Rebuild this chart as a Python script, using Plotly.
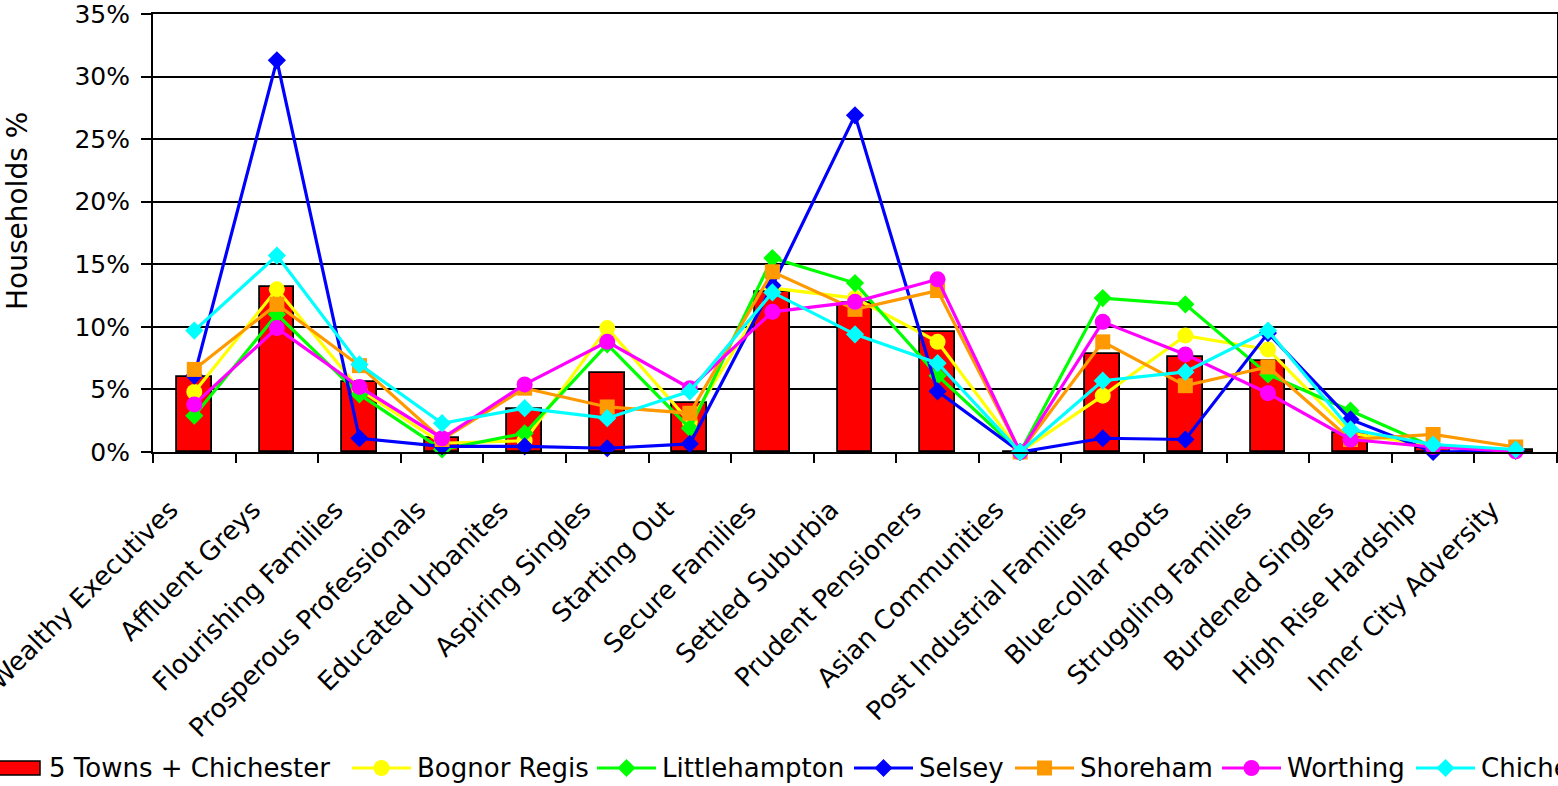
import plotly.graph_objects as go

# Household segment categories
categories = [
    "Wealthy Executives", "Affluent Greys", "Flourishing Families",
    "Prosperous Professionals", "Educated Urbanites", "Aspiring Singles",
    "Starting Out", "Secure Families", "Settled Suburbia",
    "Prudent Pensioners", "Asian Communities", "Post Industrial Families",
    "Blue-collar Roots", "Struggling Families", "Burdened Singles",
    "High Rise Hardship", "Inner City Adversity",
]

# Share of households (%) per segment
five_towns = [6.0, 13.2, 5.6, 1.1, 3.4, 6.3, 3.9, 12.8, 11.9, 9.6, 0.0, 7.8, 7.6, 7.3, 1.5, 0.3, 0.15]
bognor_regis = [4.8, 13.0, 5.0, 0.7, 0.9, 9.9, 2.4, 13.1, 12.3, 8.8, 0.0, 4.5, 9.3, 8.2, 1.5, 0.5, 0.1]
littlehampton = [2.9, 11.0, 4.6, 0.2, 1.5, 8.6, 1.9, 15.5, 13.5, 6.1, 0.0, 12.3, 11.8, 6.2, 3.3, 0.4, 0.1]
selsey = [6.1, 31.3, 1.1, 0.45, 0.45, 0.3, 0.65, 13.3, 26.9, 4.85, 0.0, 1.1, 1.0, 9.5, 2.6, 0.0, 0.1]
shoreham = [6.6, 11.8, 6.9, 1.0, 5.1, 3.6, 3.1, 14.4, 11.4, 12.9, 0.0, 8.8, 5.3, 6.8, 1.0, 1.4, 0.4]
worthing = [3.8, 9.9, 5.2, 1.1, 5.4, 8.8, 5.1, 11.2, 12.0, 13.8, 0.0, 10.4, 7.8, 4.7, 1.0, 0.4, 0.05]
chichester = [9.7, 15.7, 7.0, 2.3, 3.5, 2.7, 4.85, 12.75, 9.4, 7.1, 0.0, 5.7, 6.4, 9.7, 1.8, 0.6, 0.2]

y_ticks = [0, 5, 10, 15, 20, 25, 30, 35]
y_tick_labels = ["0%", "5%", "10%", "15%", "20%", "25%", "30%", "35%"]

bar_name = "5 Towns + Chichester"
line_series = [
    ("Bognor Regis", bognor_regis, "#FFFF00", "circle", 16),
    ("Littlehampton", littlehampton, "#00FF00", "diamond", 14),
    ("Selsey", selsey, "#0000FF", "diamond", 14),
    ("Shoreham", shoreham, "#FF9900", "square", 15),
    ("Worthing", worthing, "#FF00FF", "circle", 16),
    ("Chichester", chichester, "#00FFFF", "diamond", 14),
]

FONT = "DejaVu Sans"
W, H = 1558, 786
M_L, M_R, M_T, M_B = 153, 1, 14, 334
PW, PH = W - M_L - M_R, H - M_T - M_B


def px_x(x):
    return (x - M_L) / PW


def px_y(y):
    return (H - M_B - y) / PH


fig = go.Figure()

fig.add_trace(go.Bar(
    x=categories, y=five_towns, name=bar_name, width=0.42,
    marker=dict(color="#FF0000", line=dict(color="black", width=1.8)),
    showlegend=False,
))

for name, vals, color, symbol, msize in line_series:
    fig.add_trace(go.Scatter(
        x=categories, y=vals, name=name, mode="lines+markers",
        line=dict(color=color, width=3.2),
        marker=dict(color=color, symbol=symbol, size=msize, line=dict(width=0)),
        cliponaxis=False, showlegend=False,
    ))

# Legend row along the bottom (symbols as shapes, labels as annotations)
shapes = []
annotations = []
leg_y = 768
leg_font = dict(family=FONT, size=26, color="black")

# bar entry
shapes.append(dict(type="rect", xref="paper", yref="paper",
                   x0=px_x(-3), x1=px_x(40), y0=px_y(775), y1=px_y(761),
                   fillcolor="#FF0000", line=dict(color="black", width=1.5)))
annotations.append(dict(text=bar_name, xref="paper", yref="paper",
                        x=px_x(47), y=px_y(leg_y), xanchor="left", yanchor="middle",
                        showarrow=False, font=leg_font))

legend_starts = [352, 597, 854, 1015, 1222, 1416]
for (name, vals, color, symbol, msize), x0 in zip(line_series, legend_starts):
    x1 = x0 + 59
    xc = (x0 + x1) / 2
    shapes.append(dict(type="line", xref="paper", yref="paper",
                       x0=px_x(x0), x1=px_x(x1), y0=px_y(leg_y), y1=px_y(leg_y),
                       line=dict(color=color, width=3.2)))
    if symbol == "circle":
        r = 8
        shapes.append(dict(type="circle", xref="paper", yref="paper",
                           x0=px_x(xc - r), x1=px_x(xc + r),
                           y0=px_y(leg_y + r), y1=px_y(leg_y - r),
                           fillcolor=color, line=dict(width=0)))
    elif symbol == "square":
        r = 7.5
        shapes.append(dict(type="rect", xref="paper", yref="paper",
                           x0=px_x(xc - r), x1=px_x(xc + r),
                           y0=px_y(leg_y + r), y1=px_y(leg_y - r),
                           fillcolor=color, line=dict(width=0)))
    else:
        r = 9
        path = (f"M{px_x(xc - r)},{px_y(leg_y)} L{px_x(xc)},{px_y(leg_y - r)} "
                f"L{px_x(xc + r)},{px_y(leg_y)} L{px_x(xc)},{px_y(leg_y + r)} Z")
        shapes.append(dict(type="path", xref="paper", yref="paper", path=path,
                           fillcolor=color, line=dict(width=0)))
    annotations.append(dict(text=name, xref="paper", yref="paper",
                            x=px_x(x1 + 4), y=px_y(leg_y), xanchor="left", yanchor="middle",
                            showarrow=False, font=leg_font))

# y-axis title
annotations.append(dict(text="Households %", xref="paper", yref="paper",
                        x=px_x(18), y=px_y(211), xanchor="center", yanchor="middle",
                        textangle=-90, showarrow=False,
                        font=dict(family=FONT, size=28, color="black")))

fig.update_layout(
    width=W, height=H,
    margin=dict(l=M_L, r=M_R, t=M_T, b=M_B, autoexpand=False),
    paper_bgcolor="white", plot_bgcolor="white",
    font=dict(family=FONT, color="black"),
    showlegend=False,
    bargap=0,
    shapes=shapes,
    annotations=annotations,
    xaxis=dict(
        type="category", categoryorder="array", categoryarray=categories,
        range=[-0.5, len(categories) - 0.5],
        showline=True, linecolor="black", linewidth=2, mirror=True,
        ticks="outside", tickson="boundaries", ticklen=9, tickwidth=1.5, tickcolor="black",
        tickangle=-45, tickfont=dict(family=FONT, size=26, color="black"),
        ticklabelstandoff=30, ticklabelshift=-24, ticklabeloverflow="allow",
        showgrid=False, zeroline=False,
    ),
    yaxis=dict(
        range=[0, 35], tickvals=y_ticks, ticktext=y_tick_labels,
        showgrid=True, gridcolor="black", gridwidth=1.5,
        showline=True, linecolor="black", linewidth=2, mirror=True,
        ticks="outside", ticklen=10, tickwidth=1.5, tickcolor="black",
        tickfont=dict(family=FONT, size=25, color="black"),
        ticklabelstandoff=6, ticklabeloverflow="allow",
        zeroline=False,
    ),
)

fig.write_html("out.html")
